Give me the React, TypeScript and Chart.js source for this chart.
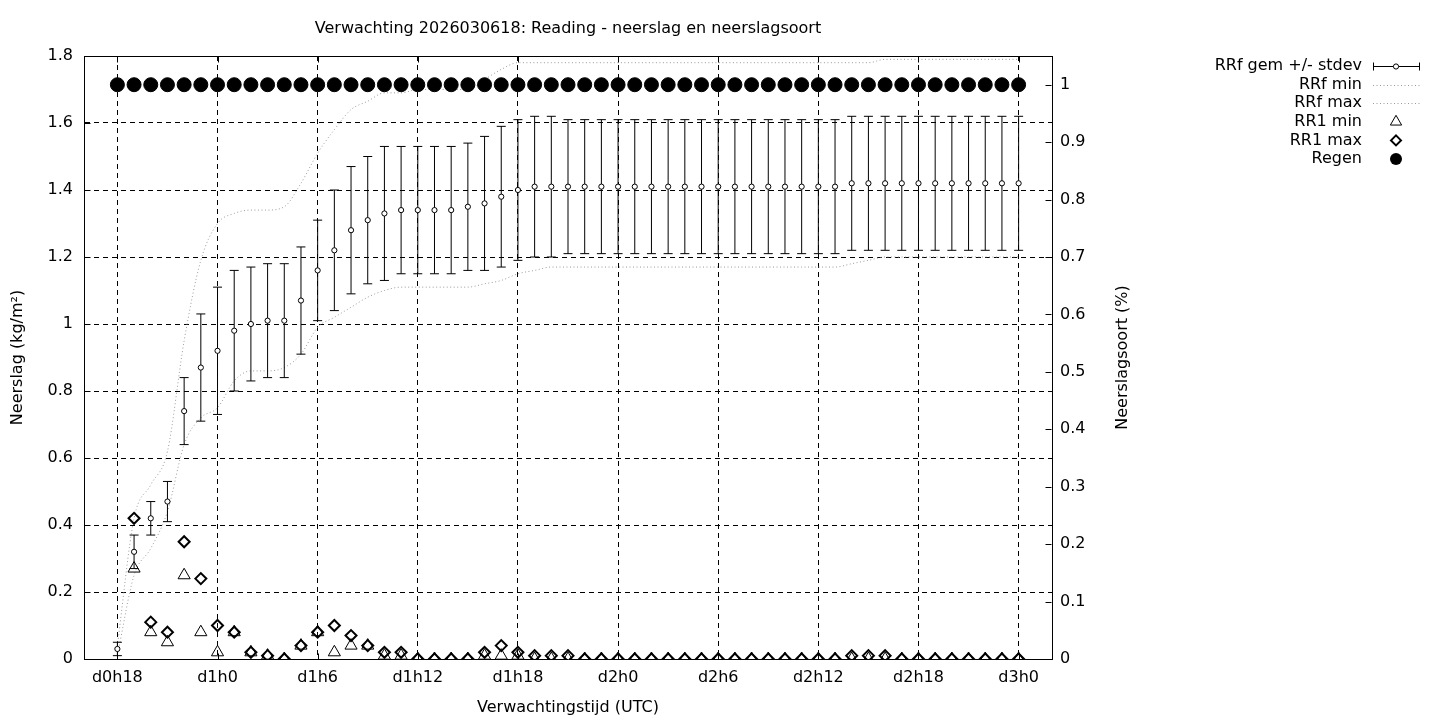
import React, { useEffect, useRef } from 'react';
import { Chart, registerables } from 'chart.js';

Chart.register(...registerables);
Chart.defaults.font.family = '"DejaVu Sans", sans-serif';
Chart.defaults.font.size = 16;
Chart.defaults.color = '#000';

const chartTitle = 'Verwachting 2026030618: Reading - neerslag en neerslagsoort';
const xAxisTitle = 'Verwachtingstijd (UTC)';
const yAxisTitle = 'Neerslag (kg/m²)';
const y2AxisTitle = 'Neerslagsoort (%)';

// forecast hour counted from d0h0
const forecastHours = [
  18, 19, 20, 21, 22, 23, 24, 25, 26, 27, 28, 29, 30, 31, 32, 33, 34, 35, 36, 37,
  38, 39, 40, 41, 42, 43, 44, 45, 46, 47, 48, 49, 50, 51, 52, 53, 54, 55, 56, 57,
  58, 59, 60, 61, 62, 63, 64, 65, 66, 67, 68, 69, 70, 71, 72,
];

const rrfMean = [
  0.03, 0.32, 0.42, 0.47, 0.74, 0.87,
  0.92, 0.98, 1.00, 1.01, 1.01, 1.07,
  1.16, 1.22, 1.28, 1.31, 1.33, 1.34,
  1.34, 1.34, 1.34, 1.35, 1.36, 1.38,
  1.40, 1.41, 1.41, 1.41, 1.41, 1.41,
  1.41, 1.41, 1.41, 1.41, 1.41, 1.41,
  1.41, 1.41, 1.41, 1.41, 1.41, 1.41,
  1.41, 1.41, 1.42, 1.42, 1.42, 1.42,
  1.42, 1.42, 1.42, 1.42, 1.42, 1.42,
  1.42,
];

const rrfStdev = [
  0.02, 0.05, 0.05, 0.06, 0.10, 0.16,
  0.19, 0.18, 0.17, 0.17, 0.17, 0.16,
  0.15, 0.18, 0.19, 0.19, 0.20, 0.19,
  0.19, 0.19, 0.19, 0.19, 0.20, 0.21,
  0.21, 0.21, 0.21, 0.20, 0.20, 0.20,
  0.20, 0.20, 0.20, 0.20, 0.20, 0.20,
  0.20, 0.20, 0.20, 0.20, 0.20, 0.20,
  0.20, 0.20, 0.20, 0.20, 0.20, 0.20,
  0.20, 0.20, 0.20, 0.20, 0.20, 0.20,
  0.20,
];

const rrfMin = [
  0.01, 0.25, 0.33, 0.44, 0.64, 0.72,
  0.75, 0.83, 0.86, 0.86, 0.87, 0.91,
  0.99, 1.02, 1.05, 1.08, 1.10, 1.11,
  1.11, 1.11, 1.11, 1.11, 1.12, 1.13,
  1.15, 1.16, 1.17, 1.17, 1.17, 1.17,
  1.17, 1.17, 1.17, 1.17, 1.17, 1.17,
  1.17, 1.17, 1.17, 1.17, 1.17, 1.17,
  1.17, 1.17, 1.18, 1.19, 1.20, 1.20,
  1.20, 1.20, 1.20, 1.20, 1.20, 1.20,
  1.20,
];

const rrfMax = [
  0.04, 0.42, 0.52, 0.62, 0.95, 1.19,
  1.30, 1.33, 1.34, 1.34, 1.35, 1.42,
  1.51, 1.58, 1.64, 1.665, 1.69, 1.69,
  1.70, 1.70, 1.70, 1.70, 1.73, 1.76,
  1.78, 1.78, 1.78, 1.78, 1.78, 1.78,
  1.78, 1.78, 1.78, 1.78, 1.78, 1.78,
  1.78, 1.78, 1.78, 1.78, 1.78, 1.78,
  1.78, 1.78, 1.78, 1.78, 1.79, 1.79,
  1.79, 1.79, 1.79, 1.79, 1.79, 1.79,
  1.79,
];

const rr1Min = [
  null, 0.27, 0.08, 0.05, 0.25, 0.08,
  0.02, 0.08, 0.02, 0.01, 0.00, 0.04,
  0.08, 0.02, 0.04, 0.04, 0.01, 0.01,
  0.00, 0.00, 0.00, 0.00, 0.01, 0.01,
  0.01, 0.00, 0.00, 0.00, 0.00, 0.00,
  0.00, 0.00, 0.00, 0.00, 0.00, 0.00,
  0.00, 0.00, 0.00, 0.00, 0.00, 0.00,
  0.00, 0.00, 0.00, 0.00, 0.00, 0.00,
  0.00, 0.00, 0.00, 0.00, 0.00, 0.00,
  0.00,
];

const rr1Max = [
  null, 0.42, 0.11, 0.08, 0.35, 0.24,
  0.10, 0.08, 0.02, 0.01, 0.00, 0.04,
  0.08, 0.10, 0.07, 0.04, 0.02, 0.02,
  0.00, 0.00, 0.00, 0.00, 0.02, 0.04,
  0.02, 0.01, 0.01, 0.01, 0.00, 0.00,
  0.00, 0.00, 0.00, 0.00, 0.00, 0.00,
  0.00, 0.00, 0.00, 0.00, 0.00, 0.00,
  0.00, 0.00, 0.01, 0.01, 0.01, 0.00,
  0.00, 0.00, 0.00, 0.00, 0.00, 0.00,
  0.00,
];

const regen = [
  1, 1, 1, 1, 1, 1, 1, 1, 1, 1, 1, 1, 1, 1, 1, 1, 1, 1, 1, 1,
  1, 1, 1, 1, 1, 1, 1, 1, 1, 1, 1, 1, 1, 1, 1, 1, 1, 1, 1, 1,
  1, 1, 1, 1, 1, 1, 1, 1, 1, 1, 1, 1, 1, 1, 1,
];

const xMinHour = 16;
const xMaxHour = 74;
const xTickHours = [18, 24, 30, 36, 42, 48, 54, 60, 66, 72];
const xTickLabels = ['d0h18', 'd1h0', 'd1h6', 'd1h12', 'd1h18', 'd2h0', 'd2h6', 'd2h12', 'd2h18', 'd3h0'];
const yTickValues = [0, 0.2, 0.4, 0.6, 0.8, 1, 1.2, 1.4, 1.6, 1.8];
const y2TickValues = [0, 0.1, 0.2, 0.3, 0.4, 0.5, 0.6, 0.7, 0.8, 0.9, 1];
const legendLabels = ['RRf gem +/- stdev', 'RRf min', 'RRf max', 'RR1 min', 'RR1 max', 'Regen'];

const FONT = '16px "DejaVu Sans", sans-serif';
const DOT_COLOR = '#9a9a9a';
const DOT_DASH = [1, 2.5];

const toPoints = (vals: (number | null)[]) => forecastHours.map((h, i) => ({ x: h, y: vals[i] }));
const round3 = (v: number) => Math.round(v * 1000) / 1000;
const errLow = rrfMean.map((m, i) => round3(m - rrfStdev[i]));
const errHigh = rrfMean.map((m, i) => round3(m + rrfStdev[i]));

const fmt = (v: number) => String(Math.round(v * 100) / 100);

const decorPlugin = {
  id: 'decor',
  afterDraw(chart: any) {
    const { ctx, chartArea: a, scales } = chart;
    const xs = scales.x;
    const ys = scales.y;
    const y2 = scales.y2;
    ctx.save();
    // top border + inward tick marks
    ctx.strokeStyle = '#000';
    ctx.lineWidth = 1;
    ctx.setLineDash([]);
    ctx.beginPath();
    const top = Math.round(a.top) + 0.5;
    const bottom = Math.round(a.bottom) + 0.5;
    const left = Math.round(a.left) + 0.5;
    const right = Math.round(a.right) - 0.5;
    ctx.moveTo(left, top);
    ctx.lineTo(right, top);
    xTickHours.forEach((h) => {
      const px = Math.round(xs.getPixelForValue(h)) + 0.5;
      ctx.moveTo(px, bottom);
      ctx.lineTo(px, bottom - 6);
      ctx.moveTo(px, top);
      ctx.lineTo(px, top + 6);
    });
    yTickValues.forEach((v) => {
      const py = Math.round(ys.getPixelForValue(v)) + 0.5;
      ctx.moveTo(left, py);
      ctx.lineTo(left + 6, py);
    });
    y2TickValues.forEach((v) => {
      const py = Math.round(y2.getPixelForValue(v)) + 0.5;
      ctx.moveTo(right, py);
      ctx.lineTo(right - 6, py);
    });
    ctx.stroke();

    // title
    ctx.font = FONT;
    ctx.fillStyle = '#000';
    ctx.textAlign = 'center';
    ctx.textBaseline = 'middle';
    ctx.fillText(chartTitle, (a.left + a.right) / 2, 29);

    // right axis title (reads bottom to top)
    ctx.save();
    ctx.translate(1123, (a.top + a.bottom) / 2);
    ctx.rotate(-Math.PI / 2);
    ctx.fillText(y2AxisTitle, 0, 0);
    ctx.restore();

    // legend
    const textRight = 1362;
    const sx0 = 1373;
    const sx1 = 1420;
    const sc = 1396;
    ctx.textAlign = 'right';
    legendLabels.forEach((label, i) => {
      const ly = 66 + i * 18.6;
      ctx.fillStyle = '#000';
      ctx.fillText(label, textRight, ly);
      const yy = Math.round(ly) + 0.5;
      ctx.lineWidth = 1;
      ctx.strokeStyle = '#000';
      ctx.setLineDash([]);
      if (i === 0) {
        ctx.beginPath();
        ctx.moveTo(sx0, yy);
        ctx.lineTo(sx1, yy);
        ctx.moveTo(sx0 + 0.5, yy - 4);
        ctx.lineTo(sx0 + 0.5, yy + 4);
        ctx.moveTo(sx1 - 0.5, yy - 4);
        ctx.lineTo(sx1 - 0.5, yy + 4);
        ctx.stroke();
        ctx.beginPath();
        ctx.arc(sc, yy, 2.6, 0, Math.PI * 2);
        ctx.fillStyle = '#fff';
        ctx.fill();
        ctx.stroke();
      } else if (i === 1 || i === 2) {
        ctx.strokeStyle = DOT_COLOR;
        ctx.setLineDash(DOT_DASH);
        ctx.beginPath();
        ctx.moveTo(sx0, yy);
        ctx.lineTo(sx1, yy);
        ctx.stroke();
        ctx.setLineDash([]);
      } else if (i === 3) {
        const r = 6.5;
        ctx.beginPath();
        ctx.moveTo(sc, ly - r);
        ctx.lineTo(sc + r * 0.866, ly + r / 2);
        ctx.lineTo(sc - r * 0.866, ly + r / 2);
        ctx.closePath();
        ctx.stroke();
      } else if (i === 4) {
        const r = 5;
        ctx.lineWidth = 2;
        ctx.beginPath();
        ctx.moveTo(sc, ly - r);
        ctx.lineTo(sc + r, ly);
        ctx.lineTo(sc, ly + r);
        ctx.lineTo(sc - r, ly);
        ctx.closePath();
        ctx.stroke();
      } else {
        ctx.beginPath();
        ctx.arc(sc, ly, 6, 0, Math.PI * 2);
        ctx.fillStyle = '#000';
        ctx.fill();
      }
    });
    ctx.restore();
  },
};

function buildConfig(): any {
  return {
    type: 'scatter',
    data: {
      datasets: [
        {
          label: 'Regen',
          data: toPoints(regen),
          yAxisID: 'y2',
          pointStyle: 'circle',
          pointRadius: 7,
          pointBackgroundColor: '#000',
          pointBorderColor: '#000',
          pointBorderWidth: 1,
          showLine: false,
          order: 0,
        },
        {
          label: 'RR1 max',
          data: toPoints(rr1Max),
          yAxisID: 'y',
          pointStyle: 'rectRot',
          pointRadius: 5.5,
          pointBackgroundColor: 'rgba(0,0,0,0)',
          pointBorderColor: '#000',
          pointBorderWidth: 2,
          showLine: false,
          order: 1,
        },
        {
          label: 'RR1 min',
          data: toPoints(rr1Min),
          yAxisID: 'y',
          pointStyle: 'triangle',
          pointRadius: 7,
          pointBackgroundColor: 'rgba(0,0,0,0)',
          pointBorderColor: '#000',
          pointBorderWidth: 1,
          showLine: false,
          order: 2,
        },
        {
          label: 'RRf gem',
          data: toPoints(rrfMean),
          yAxisID: 'y',
          pointStyle: 'circle',
          pointRadius: 2.6,
          pointBackgroundColor: '#fff',
          pointBorderColor: '#000',
          pointBorderWidth: 1,
          showLine: false,
          order: 3,
        },
        {
          label: 'stdev high',
          data: toPoints(errHigh),
          yAxisID: 'y',
          pointStyle: 'line',
          pointRadius: 4.5,
          pointBorderColor: '#000',
          pointBorderWidth: 1,
          showLine: false,
          order: 4,
        },
        {
          label: 'stdev low',
          data: toPoints(errLow),
          yAxisID: 'y',
          pointStyle: 'line',
          pointRadius: 4.5,
          pointBorderColor: '#000',
          pointBorderWidth: 1,
          showLine: false,
          order: 4,
        },
        {
          type: 'bar',
          label: 'stdev',
          data: forecastHours.map((h, i) => ({ x: h, y: [errLow[i], errHigh[i]] })),
          yAxisID: 'y',
          backgroundColor: '#000',
          borderWidth: 0,
          barThickness: 1,
          inflateAmount: 0,
          order: 5,
        },
        {
          label: 'RRf min',
          data: toPoints(rrfMin),
          yAxisID: 'y',
          showLine: true,
          pointRadius: 0,
          borderColor: DOT_COLOR,
          borderWidth: 1,
          borderDash: DOT_DASH,
          cubicInterpolationMode: 'monotone',
          fill: false,
          order: 6,
        },
        {
          label: 'RRf max',
          data: toPoints(rrfMax),
          yAxisID: 'y',
          showLine: true,
          pointRadius: 0,
          borderColor: DOT_COLOR,
          borderWidth: 1,
          borderDash: DOT_DASH,
          cubicInterpolationMode: 'monotone',
          fill: false,
          order: 7,
        },
      ],
    },
    options: {
      animation: false,
      responsive: false,
      maintainAspectRatio: false,
      events: [],
      layout: { padding: { top: 56, right: 288, bottom: 0, left: 0 } },
      plugins: {
        legend: { display: false },
        title: { display: false },
        tooltip: { enabled: false },
      },
      scales: {
        x: {
          type: 'linear',
          position: 'bottom',
          min: xMinHour,
          max: xMaxHour,
          offset: false,
          grid: { color: '#000', lineWidth: 1, drawTicks: false, offset: false },
          border: { display: true, color: '#000', width: 1, dash: [5, 4] },
          ticks: {
            padding: 9,
            color: '#000',
            maxRotation: 0,
            autoSkip: false,
            callback: (v: number) => {
              const idx = xTickHours.indexOf(v);
              return idx >= 0 ? xTickLabels[idx] : '';
            },
          },
          title: { display: true, text: xAxisTitle, color: '#000', padding: { top: 0, bottom: 3 } },
          afterBuildTicks: (s: any) => {
            s.ticks = xTickHours.map((v) => ({ value: v }));
          },
          afterFit: (s: any) => {
            s.height = 61;
          },
        },
        y: {
          type: 'linear',
          position: 'left',
          min: 0,
          max: 1.8,
          grid: { color: '#000', lineWidth: 1, drawTicks: false },
          border: { display: true, color: '#000', width: 1, dash: [5, 4] },
          ticks: { padding: 11, color: '#000', callback: (v: number) => fmt(v) },
          title: { display: true, text: yAxisTitle, color: '#000', padding: { top: 8, bottom: 0 } },
          afterBuildTicks: (s: any) => {
            s.ticks = yTickValues.map((v) => ({ value: v }));
          },
          afterFit: (s: any) => {
            s.width = 84;
          },
        },
        y2: {
          type: 'linear',
          position: 'right',
          min: 0,
          max: 1.05,
          grid: { drawOnChartArea: false, drawTicks: false },
          border: { display: true, color: '#000', width: 1 },
          ticks: { padding: 8, color: '#000', callback: (v: number) => fmt(v) },
          afterBuildTicks: (s: any) => {
            s.ticks = y2TickValues.map((v) => ({ value: v }));
          },
          afterFit: (s: any) => {
            s.width = 100;
          },
        },
      },
    },
    plugins: [decorPlugin],
  };
}

export default function App() {
  const canvasRef = useRef<HTMLCanvasElement | null>(null);
  useEffect(() => {
    if (!canvasRef.current) return;
    const chart = new Chart(canvasRef.current, buildConfig());
    return () => chart.destroy();
  }, []);
  return (
    <div style={{ position: 'absolute', left: 0, top: 0, width: 1440, height: 720, background: '#fff', overflow: 'hidden' }}>
      <canvas ref={canvasRef} width={1440} height={720} style={{ display: 'block', width: 1440, height: 720 }} />
    </div>
  );
}
